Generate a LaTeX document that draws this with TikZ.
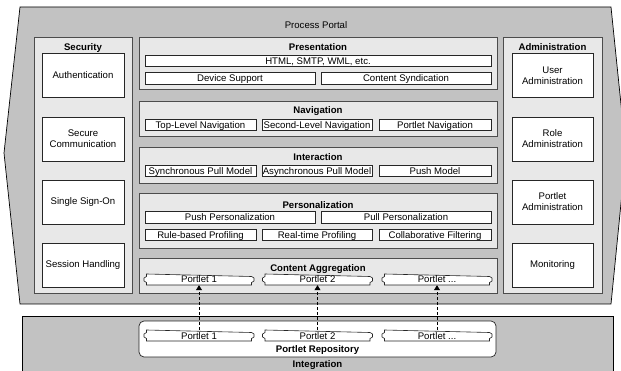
\documentclass[tikz,border=0pt]{standalone}
\usepackage{fontspec}
\setmainfont{Liberation Sans}
\usetikzlibrary{arrows.meta}
\definecolor{portalgray}{gray}{0.76}
\definecolor{panelgray}{gray}{0.91}
\tikzset{
  panel/.style={draw=black!70, fill=panelgray, line width=0.9pt, inner sep=0pt},
  item/.style={draw=black!85, fill=white, line width=0.6pt, inner sep=0pt, minimum height=11.5pt,
    text height=7pt, text depth=0pt},
  sidebox/.style={draw=black!85, fill=white, line width=0.6pt, inner sep=0pt,
    minimum width=82pt, minimum height=44pt, align=center},
  heading/.style={font=\fontsize{9.6}{11}\selectfont\bfseries, inner sep=0pt, text height=7pt, text depth=0pt},
  portletline/.style={draw=black!85, fill=white, line width=0.6pt},
  portlettext/.style={inner sep=0pt, minimum width=105pt, minimum height=11pt, text height=7pt, text depth=0pt},
  fetch/.style={dash pattern=on 3pt off 2pt, line width=0.6pt, -{Triangle[length=5pt,width=6pt]}},
  pics/portlet/.style={code={
    \draw[portletline] (-52.5,-5.5) -- ++(0,2.5) -- ++(-2.5,1.5) -- ++(0,3) -- ++(2.5,1.5) -- ++(0,2.5)
      -- ++(105,0) -- ++(0,-2.5) -- ++(2.5,-1.5) -- ++(0,-3) -- ++(-2.5,-1.5) -- cycle;
    \node[portlettext] (-body) at (0,0) {#1};
  }},
}
\begin{document}
\begin{tikzpicture}[x=1pt,y=-1pt,font=\fontsize{9.6}{11}\selectfont]
  \useasboundingbox (0,0) rectangle (621,371);
  % integration
  \draw[fill=portalgray, line width=0.7pt] (22,316) rectangle (613,380);
  \node[heading] (integration) at (317.5,364) {Integration};
  \node[draw=black!85, fill=white, line width=0.7pt, inner sep=0pt, rounded corners=5pt,
    minimum width=357pt, minimum height=36pt] (repository) at (317.5,339) {};
  \node[heading] (repositorytitle) at (317.5,349) {Portlet Repository};
  % process portal
  \draw[fill=portalgray, line width=0.7pt] (20,7) -- (611,7) -- (626,153) -- (611,304) -- (20,304) -- (4,153) -- cycle;
  \node[inner sep=0pt, text height=7pt, text depth=0pt] (portal) at (316,25) {Process Portal};

  % security
  \node[panel, minimum width=98pt, minimum height=256pt] (security) at (83,165) {};
  \node[heading] (securitytitle) at (83,47) {Security};
  \node[sidebox] (authentication) at (83,75.5) {Authentication};
  \node[sidebox] (securecomm) at (83,139) {Secure\\Communication};
  \node[sidebox] (sso) at (83,202) {Single Sign-On};
  \node[sidebox] (session) at (83,265) {Session Handling};

  % administration
  \node[panel, minimum width=99pt, minimum height=256pt] (admin) at (552.5,165) {};
  \node[heading] (admintitle) at (552.5,47) {Administration};
  \node[sidebox, minimum width=81pt] (useradmin) at (552.5,75.5) {User\\Administration};
  \node[sidebox, minimum width=81pt] (roleadmin) at (552.5,139) {Role\\Administration};
  \node[sidebox, minimum width=81pt] (portletadmin) at (552.5,202) {Portlet\\Administration};
  \node[sidebox, minimum width=81pt] (monitoring) at (552.5,265) {Monitoring};

  % presentation
  \node[panel, minimum width=358pt, minimum height=52pt] (presentation) at (318,63) {};
  \node[heading] (presentationtitle) at (318,47) {Presentation};
  \node[item, minimum width=346pt] (markup) at (318,61) {HTML, SMTP, WML, etc.};
  \node[item, minimum width=170pt] (device) at (230,78.5) {Device Support};
  \node[item, minimum width=170pt] (syndication) at (406,78.5) {Content Syndication};

  % navigation
  \node[panel, minimum width=358pt, minimum height=35pt] (navigation) at (318,118.5) {};
  \node[heading] (navigationtitle) at (318,110) {Navigation};
  \node[item, minimum width=111pt] (toplevel) at (200.5,125) {Top-Level Navigation};
  \node[item, minimum width=110pt] (secondlevel) at (317,125) {Second-Level Navigation};
  \node[item, minimum width=112pt] (portletnav) at (435,125) {Portlet Navigation};

  % interaction
  \node[panel, minimum width=358pt, minimum height=36pt] (interaction) at (318,165) {};
  \node[heading] (interactiontitle) at (318,157) {Interaction};
  \node[item, minimum width=111pt] (syncpull) at (200.5,171) {Synchronous Pull Model};
  \node[item, minimum width=110pt] (asyncpull) at (317,171) {Asynchronous Pull Model};
  \node[item, minimum width=112pt] (push) at (435,171) {Push Model};

  % personalization
  \node[panel, minimum width=358pt, minimum height=55pt] (personalization) at (318,220.5) {};
  \node[heading] (personalizationtitle) at (318,205) {Personalization};
  \node[item, minimum width=170pt] (pushpers) at (230,217.5) {Push Personalization};
  \node[item, minimum width=170pt] (pullpers) at (406,217.5) {Pull Personalization};
  \node[item, minimum width=111pt] (rulebased) at (200.5,235) {Rule-based Profiling};
  \node[item, minimum width=110pt] (realtime) at (317,235) {Real-time Profiling};
  \node[item, minimum width=112pt] (collaborative) at (435,235) {Collaborative Filtering};

  % content aggregation
  \node[panel, minimum width=358pt, minimum height=35pt] (aggregation) at (318,275.5) {};
  \node[heading] (aggregationtitle) at (318,268.5) {Content Aggregation};
  \pic (ca1) at (199,279.5) {portlet={Portlet 1}};
  \pic (ca2) at (317.5,279.5) {portlet={Portlet 2}};
  \pic (ca3) at (437,279.5) {portlet={Portlet ...}};

  % repository portlets
  \pic (pr1) at (199,335.5) {portlet={Portlet 1}};
  \pic (pr2) at (317.5,335.5) {portlet={Portlet 2}};
  \pic (pr3) at (437,335.5) {portlet={Portlet ...}};

  \draw[fetch] (pr1-body.north) -- (ca1-body.south);
  \draw[fetch] (pr2-body.north) -- (ca2-body.south);
  \draw[fetch] (pr3-body.north) -- (ca3-body.south);
\end{tikzpicture}
\end{document}
